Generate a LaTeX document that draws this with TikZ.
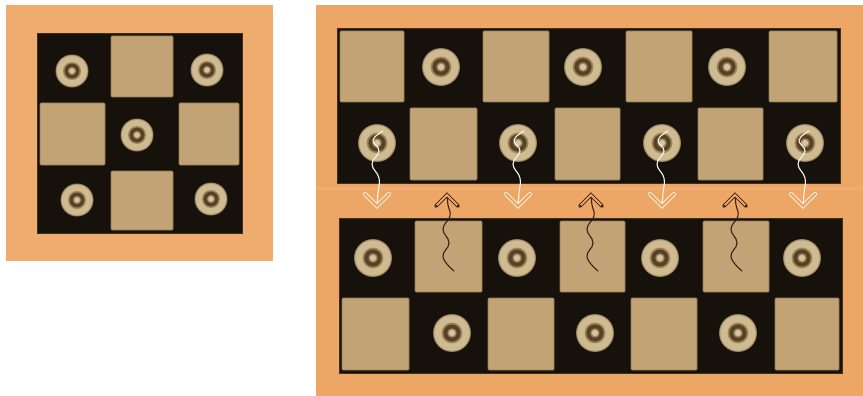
\documentclass[tikz,border=0pt]{standalone}
\definecolor{bgor}{RGB}{236,166,102}
\definecolor{bgorl}{RGB}{238,172,110}
\definecolor{tanc}{RGB}{194,163,117}
\definecolor{blk}{RGB}{22,17,11}
\definecolor{ringc}{RGB}{208,186,144}
\definecolor{ringd}{RGB}{88,66,36}
\definecolor{arrowk}{RGB}{55,32,22}
\tikzset{
  tancell/.style={fill=tanc, draw=tanc!75!black, line width=0.7pt, rounded corners=1pt},
  gridbg/.style={fill=blk, draw=blk!80!bgor, line width=0.8pt},
  whitewave/.style={draw=white!92!orange, line width=1.1pt, line cap=round},
  blackwave/.style={draw=arrowk, line width=1.1pt, line cap=round},
  whitechev/.style={draw=white!92!orange, line width=0.9pt, double=bgor, double distance=2.2pt, line cap=round},
  blackchev/.style={draw=arrowk, line width=0.8pt, double=bgor, double distance=2pt, line cap=round},
  pics/dotring/.style={code={
    \fill[ringc!60!blk] (0,0) circle ({#1+1});
    \fill[ringc!85!blk] (0,0) circle ({#1+0.3});
    \fill[ringc] (0,0) circle ({#1-0.6});
    \fill[ringc!55!ringd] (0,0) circle ({0.58*#1});
    \fill[ringd] (0,0) circle ({0.48*#1});
    \fill[ringc!60!ringd] (0,0) circle ({0.26*#1});
    \fill[ringc!85!white] (0,0) circle ({0.17*#1});
  }},
}
\begin{document}
\begin{tikzpicture}[x=1pt,y=-1pt]
\useasboundingbox (0,0) rectangle (863,396);
\fill[white] (0,0) rectangle (863,396);
% ---------- left panel ----------
\fill[bgorl] (6,5) rectangle (273,261);
\fill[gridbg] (37,33) rectangle (242,233);
\fill[tancell] (111,36) rectangle (173,97);
\fill[tancell] (40,103) rectangle (105,165);
\fill[tancell] (179,103) rectangle (239,165);
\fill[tancell] (111,171) rectangle (173,230);
\pic at (72,71) {dotring=15.5};
\pic at (207,70) {dotring=15.5};
\pic at (137,135) {dotring=15.5};
\pic at (77,200) {dotring=15.5};
\pic at (211,199) {dotring=15.5};
% ---------- right panel ----------
\fill[bgor] (316,5) rectangle (863,396);
\fill[bgorl] (316,187) rectangle (863,190);
% top grid
\fill[gridbg] (337,28) rectangle (840,183);
\foreach \a/\b in {337/407,480/552,623/695,766/840}
  \fill[tancell] (\a+3,31) rectangle (\b-3,102);
\foreach \a/\b in {407/480,552/623,695/766}
  \fill[tancell] (\a+3,108) rectangle (\b-3,180);
\foreach \x in {441,583,727} \pic at (\x,67) {dotring=18};
\foreach \x in {377,518,662,805} \pic at (\x,143) {dotring=18};
% bottom grid
\fill[gridbg] (339,218) rectangle (842,373);
\foreach \a/\b in {412/485,557/628,700/772}
  \fill[tancell] (\a+3,221) rectangle (\b-3,292);
\foreach \a/\b in {339/412,485/557,628/700,772/842}
  \fill[tancell] (\a+3,298) rectangle (\b-3,370);
\foreach \x in {373,517,660,802} \pic at (\x,258) {dotring=18};
\foreach \x in {452,595,738} \pic at (\x,333) {dotring=18};
% white downward wavy arrows
\foreach \c [count=\i] in {377,518,662,803}{
  \coordinate (ws\i) at (\c+6,131);
  \coordinate (wt\i) at (\c,206);
  \draw[whitewave] plot[smooth, tension=0.75] coordinates
    {(ws\i) (\c-4,140) (\c+2,151) (\c-5,164) (\c+2,178) (\c+1,193) (wt\i)};
  \draw[whitechev] (\c-12,194) -- (wt\i) -- (\c+12,194);
}
% black upward wavy arrows
\foreach \t [count=\i] in {447,591,735}{
  \coordinate (bt\i) at (\t,195);
  \coordinate (bs\i) at (\t+7,271);
  \draw[blackwave] plot[smooth, tension=0.75] coordinates
    {(bt\i) (\t+1,205) (\t+3,216) (\t-4,229) (\t+2,243) (\t-4,257) (bs\i)};
  \draw[blackchev] (\t-11,206) -- (bt\i) -- (\t+11,206);
  \fill[arrowk] (\t-11,206) circle (1.3) (\t+11,206) circle (1.3);
}
\end{tikzpicture}
\end{document}
